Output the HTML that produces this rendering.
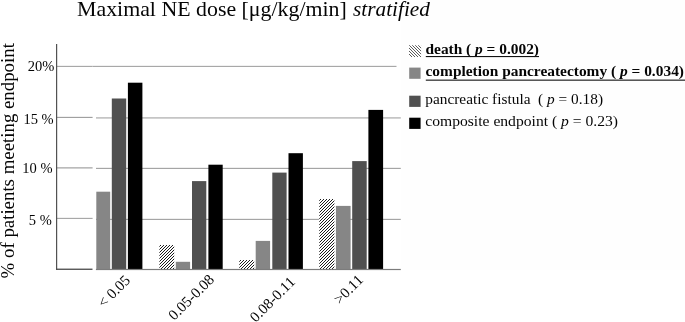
<!DOCTYPE html>
<html><head><meta charset="utf-8"><title>chart</title>
<style>
html,body{margin:0;padding:0;background:#fff;}
body{width:685px;height:322px;overflow:hidden;}
svg{display:block;}
text{font-family:"Liberation Serif",serif;fill:#050505;}
</style></head><body>
<svg width="685" height="322" viewBox="0 0 685 322">
<rect width="685" height="322" fill="#fff"/>

<rect x="400.8" y="0" width="284.2" height="269.8" fill="#fefefe"/>
<rect x="57" y="65.85" width="35.6" height="1.1" fill="#a4a4a4"/>
<rect x="57" y="116.85" width="35.6" height="1.1" fill="#9c9c9c"/>
<rect x="57" y="167.10" width="35.6" height="1.5" fill="#b4b4b4"/>
<rect x="57" y="217.85" width="35.6" height="1.1" fill="#a4a4a4"/>
<rect x="92.6" y="65.85" width="303.9" height="1.1" fill="#a4a4a4"/>
<rect x="96.0" y="117.15" width="304.8" height="1.5" fill="#bcbcbc"/>
<rect x="96.0" y="167.83" width="304.8" height="1.15" fill="#a4a4a4"/>
<rect x="96.0" y="218.83" width="304.8" height="1.15" fill="#a4a4a4"/>
<rect x="56.05" y="44" width="1.15" height="225.9" fill="#4a4a4a"/>
<rect x="56.05" y="268.60" width="36.45" height="1.3" fill="#4a4a4a"/>
<rect x="96.3" y="191.7" width="13.9" height="78.1" fill="#868686"/>
<rect x="111.8" y="98.5" width="14.4" height="171.3" fill="#505050"/>
<rect x="127.9" y="82.7" width="14.5" height="187.1" fill="#000"/>
<rect x="159.1" y="244.8" width="16.6" height="23.9" fill="#fff"/>
<clipPath id="c1"><rect x="159.40" y="245.10" width="14.80" height="24.70"/></clipPath>
<path clip-path="url(#c1)" d="M155.90,244.10 l-26.70,26.70 M158.90,244.10 l-26.70,26.70 M161.90,244.10 l-26.70,26.70 M164.90,244.10 l-26.70,26.70 M167.90,244.10 l-26.70,26.70 M170.90,244.10 l-26.70,26.70 M173.90,244.10 l-26.70,26.70 M176.90,244.10 l-26.70,26.70 M179.90,244.10 l-26.70,26.70 M182.90,244.10 l-26.70,26.70 M185.90,244.10 l-26.70,26.70 M188.90,244.10 l-26.70,26.70 M191.90,244.10 l-26.70,26.70 M194.90,244.10 l-26.70,26.70 M197.90,244.10 l-26.70,26.70 M200.90,244.10 l-26.70,26.70 M203.90,244.10 l-26.70,26.70 M206.90,244.10 l-26.70,26.70 M209.90,244.10 l-26.70,26.70" stroke="#1c1c1c" stroke-width="1.0" fill="none"/>
<rect x="175.8" y="261.8" width="14.3" height="8.0" fill="#868686"/>
<rect x="192.0" y="181.1" width="14.3" height="88.7" fill="#505050"/>
<rect x="208.4" y="164.7" width="14.3" height="105.1" fill="#000"/>
<rect x="239.0" y="259.7" width="16.7" height="9.0" fill="#fff"/>
<clipPath id="c2"><rect x="239.30" y="260.00" width="14.90" height="9.80"/></clipPath>
<path clip-path="url(#c2)" d="M236.00,259.00 l-11.80,11.80 M239.00,259.00 l-11.80,11.80 M242.00,259.00 l-11.80,11.80 M245.00,259.00 l-11.80,11.80 M248.00,259.00 l-11.80,11.80 M251.00,259.00 l-11.80,11.80 M254.00,259.00 l-11.80,11.80 M257.00,259.00 l-11.80,11.80 M260.00,259.00 l-11.80,11.80 M263.00,259.00 l-11.80,11.80 M266.00,259.00 l-11.80,11.80 M269.00,259.00 l-11.80,11.80 M272.00,259.00 l-11.80,11.80 M275.00,259.00 l-11.80,11.80" stroke="#1c1c1c" stroke-width="1.0" fill="none"/>
<rect x="255.7" y="240.9" width="14.4" height="28.9" fill="#868686"/>
<rect x="272.3" y="172.6" width="14.3" height="97.2" fill="#505050"/>
<rect x="288.5" y="153.2" width="14.4" height="116.6" fill="#000"/>
<rect x="319.0" y="198.7" width="16.9" height="70.0" fill="#fff"/>
<clipPath id="c3"><rect x="319.30" y="199.00" width="15.10" height="70.80"/></clipPath>
<path clip-path="url(#c3)" d="M316.00,198.00 l-72.80,72.80 M319.00,198.00 l-72.80,72.80 M322.00,198.00 l-72.80,72.80 M325.00,198.00 l-72.80,72.80 M328.00,198.00 l-72.80,72.80 M331.00,198.00 l-72.80,72.80 M334.00,198.00 l-72.80,72.80 M337.00,198.00 l-72.80,72.80 M340.00,198.00 l-72.80,72.80 M343.00,198.00 l-72.80,72.80 M346.00,198.00 l-72.80,72.80 M349.00,198.00 l-72.80,72.80 M352.00,198.00 l-72.80,72.80 M355.00,198.00 l-72.80,72.80 M358.00,198.00 l-72.80,72.80 M361.00,198.00 l-72.80,72.80 M364.00,198.00 l-72.80,72.80 M367.00,198.00 l-72.80,72.80 M370.00,198.00 l-72.80,72.80 M373.00,198.00 l-72.80,72.80 M376.00,198.00 l-72.80,72.80 M379.00,198.00 l-72.80,72.80 M382.00,198.00 l-72.80,72.80 M385.00,198.00 l-72.80,72.80 M388.00,198.00 l-72.80,72.80 M391.00,198.00 l-72.80,72.80 M394.00,198.00 l-72.80,72.80 M397.00,198.00 l-72.80,72.80 M400.00,198.00 l-72.80,72.80 M403.00,198.00 l-72.80,72.80 M406.00,198.00 l-72.80,72.80 M409.00,198.00 l-72.80,72.80 M412.00,198.00 l-72.80,72.80 M415.00,198.00 l-72.80,72.80" stroke="#1c1c1c" stroke-width="1.0" fill="none"/>
<rect x="335.9" y="205.9" width="14.7" height="63.9" fill="#868686"/>
<rect x="352.2" y="161.1" width="14.5" height="108.7" fill="#505050"/>
<rect x="368.4" y="109.9" width="14.7" height="159.9" fill="#000"/>
<rect x="95.9" y="268.9" width="304.9" height="1.2" fill="#7c7c7c"/>
<text x="77" y="16" font-size="21.5" textLength="269.8" lengthAdjust="spacingAndGlyphs">Maximal NE dose [μg/kg/min]</text>
<text x="353" y="16" font-size="21.5" font-style="italic" textLength="77" lengthAdjust="spacingAndGlyphs">stratified</text>
<text x="54.4" y="70.8" font-size="14.5" text-anchor="end">20%</text>
<text x="53.6" y="123.6" font-size="14.5" text-anchor="end">15 %</text>
<text x="52.5" y="173.4" font-size="14.5" text-anchor="end">10 %</text>
<text x="51.8" y="224.8" font-size="14.5" text-anchor="end">5 %</text>
<text transform="translate(13.5,278.4) rotate(-90)" font-size="19" textLength="235.3" lengthAdjust="spacingAndGlyphs">% of patients meeting endpoint</text>
<text transform="translate(131.0,281.2) rotate(-45)" font-size="15" text-anchor="end">&lt; 0.05</text>
<text transform="translate(215,280.4) rotate(-45)" font-size="15" text-anchor="end">0.05-0.08</text>
<text transform="translate(296,282.8) rotate(-45)" font-size="15" text-anchor="end">0.08-0.11</text>
<text transform="translate(364.0,280.8) rotate(-45)" font-size="15" text-anchor="end">&gt;0.11</text>
<clipPath id="cl"><rect x="409.00" y="45.20" width="12.10" height="11.80"/></clipPath>
<path clip-path="url(#cl)" d="M393.20,44.20 l13.80,13.80 M396.20,44.20 l13.80,13.80 M399.20,44.20 l13.80,13.80 M402.20,44.20 l13.80,13.80 M405.20,44.20 l13.80,13.80 M408.20,44.20 l13.80,13.80 M411.20,44.20 l13.80,13.80 M414.20,44.20 l13.80,13.80 M417.20,44.20 l13.80,13.80 M420.20,44.20 l13.80,13.80 M423.20,44.20 l13.80,13.80 M426.20,44.20 l13.80,13.80 M429.20,44.20 l13.80,13.80" stroke="#4a4a4a" stroke-width="0.9" fill="none"/>
<rect x="409.2" y="67.6" width="11.4" height="11.2" fill="#868686"/>
<rect x="409.2" y="95.7" width="11.4" height="11.2" fill="#505050"/>
<rect x="409.2" y="117.7" width="11.4" height="11.2" fill="#000"/>
<text x="425.5" y="53.6" font-size="15.4" font-weight="bold" textLength="113.5" lengthAdjust="spacingAndGlyphs">death ( <tspan font-style="italic">p</tspan> = 0.002)</text>
<rect x="425.8" y="56" width="113.2" height="1.1" fill="#111"/>
<text x="425.5" y="76.1" font-size="15.4" font-weight="bold" textLength="258.5" lengthAdjust="spacingAndGlyphs">completion pancreatectomy ( <tspan font-style="italic">p</tspan> = 0.034)</text>
<rect x="425.8" y="79.6" width="259.2" height="1.1" fill="#111"/>
<text x="425.3" y="103.9" font-size="15.4" textLength="177.7" lengthAdjust="spacingAndGlyphs" xml:space="preserve">pancreatic fistula  ( <tspan font-style="italic">p</tspan> = 0.18)</text>
<text x="425.3" y="126.4" font-size="15.4" textLength="192.7" lengthAdjust="spacingAndGlyphs">composite endpoint ( <tspan font-style="italic">p</tspan> = 0.23)</text>
</svg></body></html>
